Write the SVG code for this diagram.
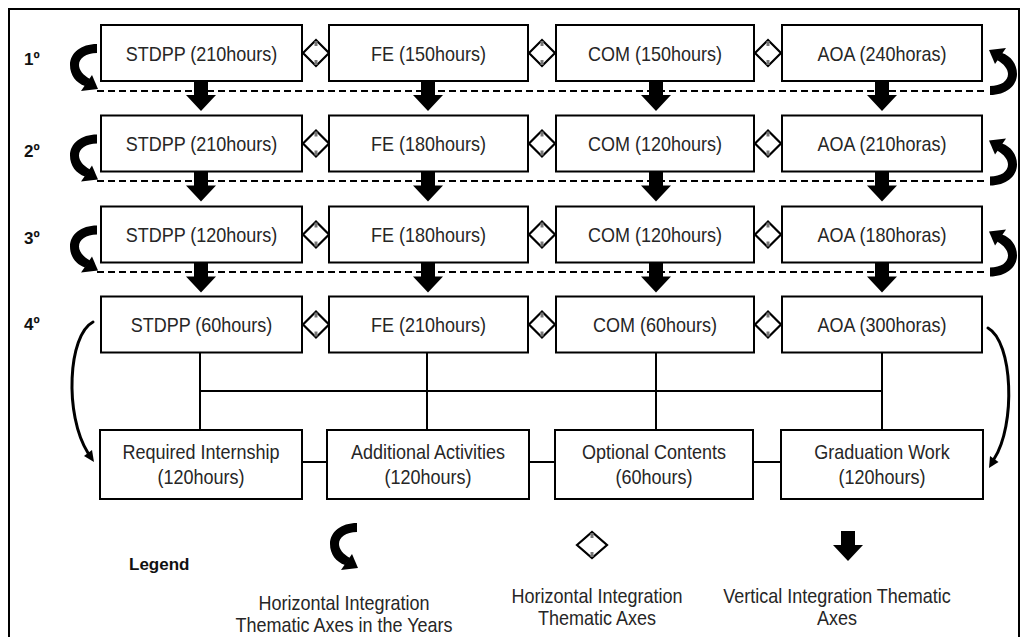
<svg xmlns="http://www.w3.org/2000/svg" width="1021" height="637" viewBox="0 0 1021 637">
<style>
.box{fill:#fff;stroke:#000;stroke-width:2}
.t{font-family:"Liberation Sans",Arial,sans-serif;font-size:20px;fill:#262626;text-anchor:middle}
.yr{font-family:"Liberation Sans",Arial,sans-serif;font-size:17px;font-weight:bold;fill:#111}
.dash{stroke:#000;stroke-width:2;stroke-dasharray:7,4;fill:none}
.ln{stroke:#000;stroke-width:2;fill:none}
.dia{fill:#fff;stroke:#000;stroke-width:2.2}
.tick{stroke:#777;stroke-width:3}
.thin{stroke:#000;stroke-width:3;fill:none;stroke-linecap:round}
</style>
<defs>
<path id="down" d="M-7,0 H7 V14 H15 L0,30 L-15,14 H-7 Z" fill="#000"/>
<g id="curl" fill="#000">
<path d="M0,-9 C-16,-9 -27,0 -27,12 C-27,22 -21,30 -12,33 L-7,26 C-14,22 -18,17 -18,12 C-18,5 -11,0 0,0 Z"/>
<polygon points="1,36 -5,22 -16,38"/>
</g>
<g id="dia">
<polygon class="dia" points="-13,0 0,-13 13,0 0,13"/>
<line class="tick" x1="0" y1="-12" x2="0" y2="-7"/>
<line class="tick" x1="0" y1="7" x2="0" y2="12"/>
</g>
</defs>
<rect x="9" y="9" width="1010" height="640" fill="none" stroke="#000" stroke-width="2"/>

<g id="years">
<text class="yr" x="24" y="65">1º</text>
<text class="yr" x="24" y="157">2º</text>
<text class="yr" x="24" y="244">3º</text>
<text class="yr" x="24" y="330">4º</text>
</g>

<g id="connectors">
<line class="dash" x1="97" y1="91" x2="985" y2="91"/>
<line class="dash" x1="97" y1="181" x2="985" y2="181"/>
<line class="dash" x1="97" y1="272" x2="985" y2="272"/>
<use href="#curl" transform="translate(97,53)"/>
<use href="#curl" transform="translate(97,143.5)"/>
<use href="#curl" transform="translate(97,234.5)"/>
<use href="#curl" transform="translate(990,86)rotate(180)"/>
<use href="#curl" transform="translate(990,176.5)rotate(180)"/>
<use href="#curl" transform="translate(990,267.5)rotate(180)"/>
<use href="#down" x="201" y="81"/><use href="#down" x="428" y="81"/><use href="#down" x="656" y="81"/><use href="#down" x="882" y="81"/>
<use href="#down" x="201" y="171.5"/><use href="#down" x="428" y="171.5"/><use href="#down" x="656" y="171.5"/><use href="#down" x="882" y="171.5"/>
<use href="#down" x="201" y="262.5"/><use href="#down" x="428" y="262.5"/><use href="#down" x="656" y="262.5"/><use href="#down" x="882" y="262.5"/>
<use href="#dia" x="316" y="53"/><use href="#dia" x="542" y="53"/><use href="#dia" x="768" y="53"/>
<use href="#dia" x="316" y="143.5"/><use href="#dia" x="542" y="143.5"/><use href="#dia" x="768" y="143.5"/>
<use href="#dia" x="316" y="234.5"/><use href="#dia" x="542" y="234.5"/><use href="#dia" x="768" y="234.5"/>
<use href="#dia" x="316" y="324.5"/><use href="#dia" x="542" y="324.5"/><use href="#dia" x="768" y="324.5"/>
<path class="ln" d="M200,352.5 V430 M427,352.5 V430 M656,352.5 V430 M882,352.5 V430 M200,391 H882"/>
<path class="ln" d="M302,462 H327 M529,462 H555 M753,462 H781"/>
<path class="thin" d="M93,322 C68,335 64,415 88,453"/>
<polygon points="94,462 92,450 84,456" fill="#000"/>
<path class="thin" d="M988,328 C1013,342 1016,425 994,459"/>
<polygon points="989,468 998.5,462 990,456" fill="#000"/>
</g>

<g id="r1">
<g id="n-stdpp1"><rect class="box" x="101" y="25" width="201" height="56"/><text class="t" transform="translate(201.5,60.5) scale(0.9,1)">STDPP (210hours)</text></g>
<g id="n-fe1"><rect class="box" x="329" y="25" width="199" height="56"/><text class="t" transform="translate(428.5,60.5) scale(0.9,1)">FE (150hours)</text></g>
<g id="n-com1"><rect class="box" x="556" y="25" width="198" height="56"/><text class="t" transform="translate(655,60.5) scale(0.9,1)">COM (150hours)</text></g>
<g id="n-aoa1"><rect class="box" x="782" y="25" width="200" height="56"/><text class="t" transform="translate(882,60.5) scale(0.9,1)">AOA (240horas)</text></g>
</g>
<g id="r2">
<g id="n-stdpp2"><rect class="box" x="101" y="115.5" width="201" height="56"/><text class="t" transform="translate(201.5,151) scale(0.9,1)">STDPP (210hours)</text></g>
<g id="n-fe2"><rect class="box" x="329" y="115.5" width="199" height="56"/><text class="t" transform="translate(428.5,151) scale(0.9,1)">FE (180hours)</text></g>
<g id="n-com2"><rect class="box" x="556" y="115.5" width="198" height="56"/><text class="t" transform="translate(655,151) scale(0.9,1)">COM (120hours)</text></g>
<g id="n-aoa2"><rect class="box" x="782" y="115.5" width="200" height="56"/><text class="t" transform="translate(882,151) scale(0.9,1)">AOA (210horas)</text></g>
</g>
<g id="r3">
<g id="n-stdpp3"><rect class="box" x="101" y="206.5" width="201" height="56"/><text class="t" transform="translate(201.5,242) scale(0.9,1)">STDPP (120hours)</text></g>
<g id="n-fe3"><rect class="box" x="329" y="206.5" width="199" height="56"/><text class="t" transform="translate(428.5,242) scale(0.9,1)">FE (180hours)</text></g>
<g id="n-com3"><rect class="box" x="556" y="206.5" width="198" height="56"/><text class="t" transform="translate(655,242) scale(0.9,1)">COM (120hours)</text></g>
<g id="n-aoa3"><rect class="box" x="782" y="206.5" width="200" height="56"/><text class="t" transform="translate(882,242) scale(0.9,1)">AOA (180horas)</text></g>
</g>
<g id="r4">
<g id="n-stdpp4"><rect class="box" x="101" y="296.5" width="201" height="56"/><text class="t" transform="translate(201.5,332) scale(0.9,1)">STDPP (60hours)</text></g>
<g id="n-fe4"><rect class="box" x="329" y="296.5" width="199" height="56"/><text class="t" transform="translate(428.5,332) scale(0.9,1)">FE (210hours)</text></g>
<g id="n-com4"><rect class="box" x="556" y="296.5" width="198" height="56"/><text class="t" transform="translate(655,332) scale(0.9,1)">COM (60hours)</text></g>
<g id="n-aoa4"><rect class="box" x="782" y="296.5" width="200" height="56"/><text class="t" transform="translate(882,332) scale(0.9,1)">AOA (300horas)</text></g>
</g>
<g id="r5">
<g id="n-intern"><rect class="box" x="100" y="430" width="202" height="69"/><text class="t" transform="translate(201,459) scale(0.9,1)">Required Internship</text><text class="t" transform="translate(201,484) scale(0.9,1)">(120hours)</text></g>
<g id="n-addact"><rect class="box" x="327" y="430" width="202" height="69"/><text class="t" transform="translate(428,459) scale(0.9,1)">Additional Activities</text><text class="t" transform="translate(428,484) scale(0.9,1)">(120hours)</text></g>
<g id="n-optc"><rect class="box" x="555" y="430" width="198" height="69"/><text class="t" transform="translate(654,459) scale(0.9,1)">Optional Contents</text><text class="t" transform="translate(654,484) scale(0.9,1)">(60hours)</text></g>
<g id="n-grad"><rect class="box" x="781" y="430" width="202" height="69"/><text class="t" transform="translate(882,459) scale(0.9,1)">Graduation Work</text><text class="t" transform="translate(882,484) scale(0.9,1)">(120hours)</text></g>
</g>

<g id="legend">
<text x="129" y="570" font-family="Liberation Sans,Arial,sans-serif" font-size="17" font-weight="bold" fill="#111">Legend</text>
<use href="#curl" transform="translate(357,532)"/>
<text class="t" transform="translate(344,610) scale(0.9,1)">Horizontal Integration</text>
<text class="t" transform="translate(344,632) scale(0.9,1)">Thematic Axes in the Years</text>
<g transform="translate(592,545)">
<polygon class="dia" points="-15,0 0,-13 15,0 0,13"/>
<line class="tick" x1="0" y1="-12" x2="0" y2="-7"/>
<line class="tick" x1="0" y1="7" x2="0" y2="12"/>
</g>
<text class="t" transform="translate(597,603) scale(0.9,1)">Horizontal Integration</text>
<text class="t" transform="translate(597,625) scale(0.9,1)">Thematic Axes</text>
<use href="#down" x="848" y="531"/>
<text class="t" transform="translate(837,603) scale(0.9,1)">Vertical Integration Thematic</text>
<text class="t" transform="translate(837,625) scale(0.9,1)">Axes</text>
</g>
</svg>
